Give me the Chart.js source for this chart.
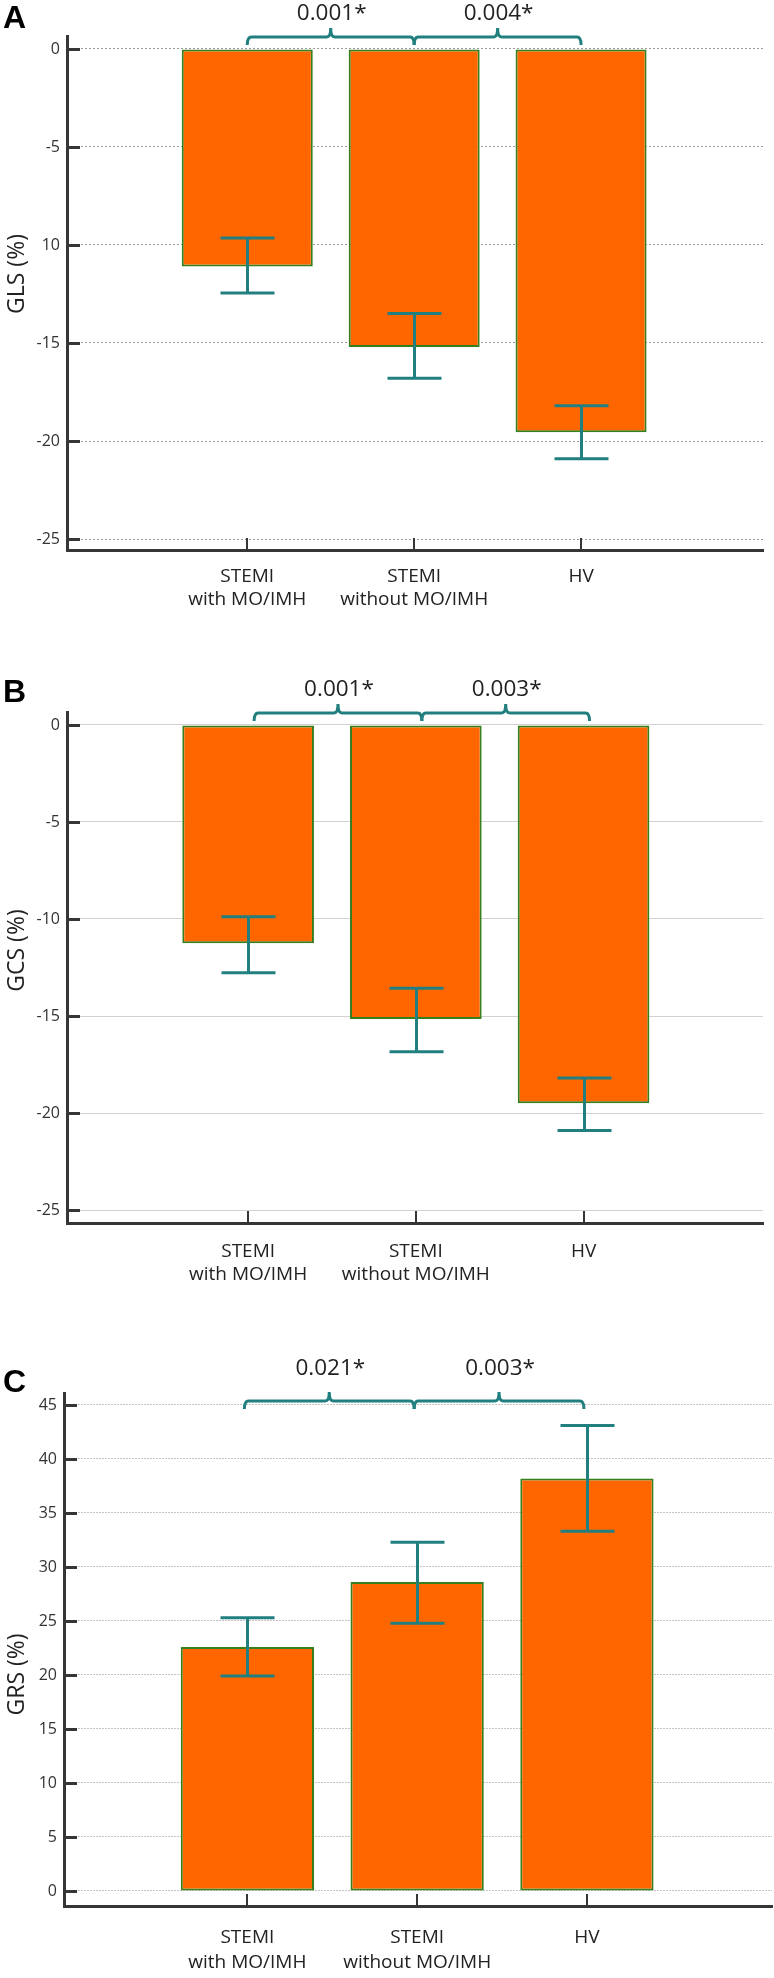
<!DOCTYPE html>
<html>
<head>
<meta charset="utf-8">
<script src="https://cdn.jsdelivr.net/npm/chart.js@4"></script>
<style>
  html, body { margin: 0; padding: 0; background: #fff; }
  #page { position: relative; width: 774px; height: 1978px; }
  canvas { position: absolute; left: 0; }
</style>
</head>
<body>
<div id="page">
  <canvas id="chartA" width="774" height="640" style="top:0px"></canvas>
  <canvas id="chartB" width="774" height="680" style="top:640px"></canvas>
  <canvas id="chartC" width="774" height="658" style="top:1320px"></canvas>
</div>
<script>
// Groups on the x axis (same for all three panels)
const categories = [['STEMI', 'with MO/IMH'], ['STEMI', 'without MO/IMH'], ['HV']];
const categoryPos = [0, 1, 2];

// Panel A - global longitudinal strain
const glsMeans = [-11.1, -15.2, -19.55];
const glsLower = [-12.45, -16.8, -20.9];
const glsUpper = [-9.65, -13.5, -18.2];
const glsTicks = [0, -5, -10, -15, -20, -25];
const glsTickLabels = ['0', '-5', '10', '-15', '-20', '-25']; // "10" is printed like that in the figure
const glsPValues = ['0.001*', '0.004*'];

// Panel B - global circumferential strain
const gcsMeans = [-11.25, -15.15, -19.5];
const gcsLower = [-12.77, -16.84, -20.9];
const gcsUpper = [-9.88, -13.57, -18.2];
const gcsTicks = [0, -5, -10, -15, -20, -25];
const gcsTickLabels = ['0', '-5', '-10', '-15', '-20', '-25'];
const gcsPValues = ['0.001*', '0.003*'];

// Panel C - global radial strain
const grsMeans = [22.6, 28.6, 38.2];
const grsLower = [19.9, 24.8, 33.3];
const grsUpper = [25.3, 32.3, 43.1];
const grsTicks = [0, 5, 10, 15, 20, 25, 30, 35, 40, 45];
const grsTickLabels = ['0', '5', '10', '15', '20', '25', '30', '35', '40', '45'];
const grsPValues = ['0.021*', '0.003*'];

const barColor = '#ff6600';
const barEdge = '#35801c';
const teal = '#21807f';
const axisColor = '#363636';
const textFont = '"Open Sans", "DejaVu Sans", sans-serif';

// error bars, inner tick marks, significance brackets, letter and axis title
const panelDecor = {
  id: 'panelDecor',
  afterDatasetsDraw(chart, args, o) {
    const ctx = chart.ctx;
    const xs = chart.scales.x, ys = chart.scales.y;
    const area = chart.chartArea;
    ctx.save();

    // tick marks on the inside of the y axis
    ctx.strokeStyle = axisColor;
    ctx.lineWidth = 3;
    ys.ticks.forEach(t => {
      const py = Math.round(ys.getPixelForValue(t.value)) + 0.5;
      ctx.beginPath();
      ctx.moveTo(area.left, py);
      ctx.lineTo(area.left + 13, py);
      ctx.stroke();
    });
    // tick marks on the x axis
    ctx.lineWidth = 2;
    xs.ticks.forEach(t => {
      const px = Math.round(xs.getPixelForValue(t.value));
      ctx.beginPath();
      ctx.moveTo(px, area.bottom);
      ctx.lineTo(px, area.bottom - 12);
      ctx.stroke();
    });

    // error bars
    ctx.strokeStyle = teal;
    ctx.lineWidth = 3;
    o.lower.forEach((lo, i) => {
      const px = Math.round(xs.getPixelForValue(categoryPos[i])) + 0.5;
      const y1 = ys.getPixelForValue(lo);
      const y2 = ys.getPixelForValue(o.upper[i]);
      ctx.beginPath();
      ctx.moveTo(px, y1); ctx.lineTo(px, y2);
      ctx.moveTo(px - 27, y1); ctx.lineTo(px + 27, y1);
      ctx.moveTo(px - 27, y2); ctx.lineTo(px + 27, y2);
      ctx.stroke();
    });

    // curly brackets with p values
    const by = area.top + o.bracketY;
    o.pValues.forEach((p, i) => {
      const xa = xs.getPixelForValue(categoryPos[i]) + o.bracketShift;
      const xb = xs.getPixelForValue(categoryPos[i + 1]) + o.bracketShift;
      const xm = (xa + xb) / 2;
      ctx.strokeStyle = teal;
      ctx.lineWidth = 3;
      ctx.beginPath();
      ctx.moveTo(xa, by + 8);
      ctx.quadraticCurveTo(xa, by, xa + 4, by);
      ctx.lineTo(xm - 4, by);
      ctx.quadraticCurveTo(xm, by, xm, by - 9);
      ctx.quadraticCurveTo(xm, by, xm + 4, by);
      ctx.lineTo(xb - 4, by);
      ctx.quadraticCurveTo(xb, by, xb, by + 8);
      ctx.stroke();
      ctx.fillStyle = '#222';
      ctx.font = '22.5px ' + textFont;
      ctx.textAlign = 'center';
      ctx.textBaseline = 'middle';
      ctx.fillText(p, xm + 1, area.top + o.textY);
    });

    // panel letter
    ctx.fillStyle = '#000';
    ctx.font = 'bold 32px "Liberation Sans", Arial, sans-serif';
    ctx.textAlign = 'left';
    ctx.textBaseline = 'alphabetic';
    ctx.fillText(o.letter, 3, o.letterY);

    // y axis title
    ctx.translate(17, (area.top + area.bottom) / 2 + o.titleShift);
    ctx.rotate(-Math.PI / 2);
    ctx.fillStyle = '#222';
    ctx.font = '23px ' + textFont;
    ctx.textAlign = 'center';
    ctx.textBaseline = 'middle';
    ctx.fillText(o.title, 0, 0);
    ctx.restore();
  }
};

const makePanel = (id, p) => {
  new Chart(document.getElementById(id), {
    type: 'bar',
    data: {
      datasets: [{
        data: categoryPos.map((x, i) => ({ x: x, y: p.means[i] })),
        backgroundColor: barColor,
        borderColor: barEdge,
        borderWidth: 2,
        borderSkipped: false,
        categoryPercentage: 0.785,
        barPercentage: 1
      }]
    },
    options: {
      responsive: false,
      animation: false,
      layout: { padding: { top: p.padTop, right: p.padRight, left: 0, bottom: 0 } },
      plugins: {
        legend: { display: false },
        tooltip: { enabled: false },
        panelDecor: p.decor
      },
      scales: {
        x: {
          type: 'linear',
          min: -1.08,
          max: p.xMax,
          offset: false,
          afterFit: s => { s.height = p.xHeight; },
          afterBuildTicks: s => { s.ticks = categoryPos.map(v => ({ value: v })); },
          ticks: {
            callback: (v, i) => categories[i],
            autoSkip: false,
            maxRotation: 0,
            color: '#222',
            padding: p.xLabelPad,
            font: { family: textFont, size: 19, lineHeight: p.xLineHeight }
          },
          grid: { display: false, drawTicks: false, offset: false },
          border: { display: true, color: axisColor, width: 3 }
        },
        y: {
          min: p.yMin,
          max: p.yMax,
          afterFit: s => { s.width = p.yWidth; },
          afterBuildTicks: s => { s.ticks = p.ticks.map(v => ({ value: v })); },
          ticks: {
            callback: (v, i) => p.tickLabels[i],
            color: '#333',
            padding: 7,
            font: { family: textFont, size: 16 }
          },
          grid: { color: p.gridColor, lineWidth: 1, drawTicks: false },
          border: { display: true, color: axisColor, width: 3, dash: p.gridDash }
        }
      }
    },
    plugins: [panelDecor]
  });
};

makePanel('chartA', {
  means: glsMeans, ticks: glsTicks, tickLabels: glsTickLabels,
  yMin: -25.56, yMax: 0.66, xMax: 3.09,
  padTop: 36, padRight: 11, yWidth: 67, xHeight: 90,
  xLabelPad: 15, xLineHeight: 23 / 19,
  gridColor: '#9a9a9a', gridDash: [2, 2],
  decor: { lower: glsLower, upper: glsUpper, pValues: glsPValues, bracketY: 1, bracketShift: 0,
           textY: -22.5, letter: 'A', letterY: 28, title: 'GLS (%)', titleShift: -19 }
});

makePanel('chartB', {
  means: gcsMeans, ticks: gcsTicks, tickLabels: gcsTickLabels,
  yMin: -25.67, yMax: 0.67, xMax: 3.07,
  padTop: 72, padRight: 11, yWidth: 67, xHeight: 97,
  xLabelPad: 17, xLineHeight: 23 / 19,
  gridColor: '#d2d2d2', gridDash: [],
  decor: { lower: gcsLower, upper: gcsUpper, pValues: gcsPValues, bracketY: 1, bracketShift: 6,
           textY: -22, letter: 'B', letterY: 62, title: 'GCS (%)', titleShift: -17 }
});

makePanel('chartC', {
  means: grsMeans, ticks: grsTicks, tickLabels: grsTickLabels,
  yMin: -1.39, yMax: 46.11, xMax: 3.09,
  padTop: 73, padRight: 2, yWidth: 64, xHeight: 72,
  xLabelPad: 19, xLineHeight: 25 / 19,
  gridColor: '#c4c4c4', gridDash: [2, 1],
  decor: { lower: grsLower, upper: grsUpper, pValues: grsPValues, bracketY: 8, bracketShift: -3,
           textY: -24, letter: 'C', letterY: 72, title: 'GRS (%)', titleShift: 25 }
});
</script>
</body>
</html>
